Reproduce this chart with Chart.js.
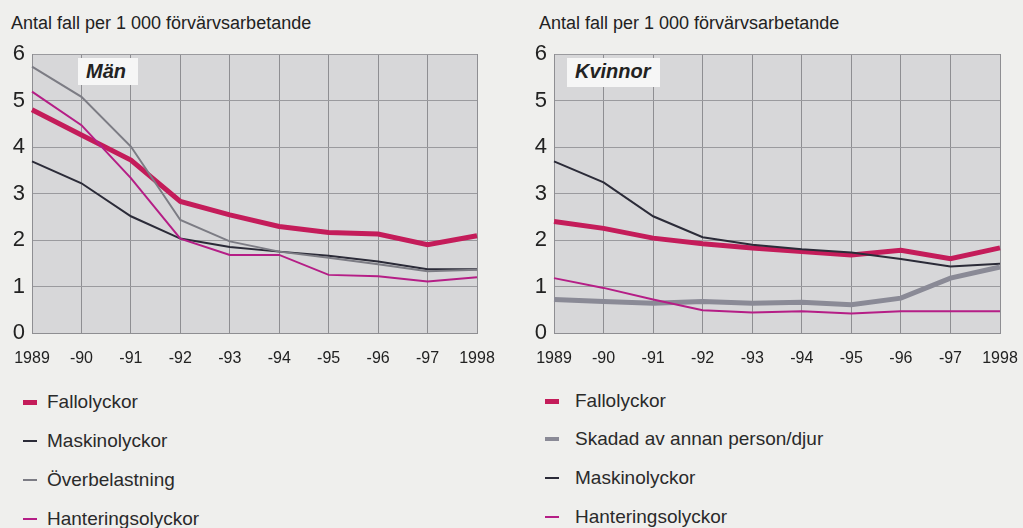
<!DOCTYPE html>
<html>
<head>
<meta charset="utf-8">
<script src="https://cdn.jsdelivr.net/npm/chart.js@4/dist/chart.umd.min.js"></script>
<style>
  body { margin:0; width:1023px; height:528px; background:#efefed; font-family:"Liberation Sans", Arial, sans-serif; color:#2a2a2a; position:relative; overflow:hidden; }
  canvas { position:absolute; top:0; }
  .title { position:absolute; top:13px; font-size:18px; color:#222; }
  .tag { position:absolute; background:#f6f6f6; font-weight:bold; font-style:italic; font-size:20px; color:#222; padding:2px 0 0 8px; box-sizing:border-box; }
  .leg { position:absolute; font-size:19px; line-height:19px; }
  .leg .sw { position:absolute; left:0; top:9px; width:14px; }
  .leg .tx { position:absolute; white-space:nowrap; }
</style>
</head>
<body>
<div class="title" style="left:11px">Antal fall per 1 000 förvärvsarbetande</div>
<div class="title" style="left:539px">Antal fall per 1 000 förvärvsarbetande</div>
<canvas id="c1" width="511" height="380" style="left:0"></canvas>
<canvas id="c2" width="511" height="380" style="left:512px"></canvas>
<div class="tag" style="left:78px;top:58px;width:60px;height:27px">Män</div>
<div class="tag" style="left:567px;top:58px;width:93px;height:29px">Kvinnor</div>
<div id="leg1"></div>
<div id="leg2"></div>
<script>
var years = ['1989','-90','-91','-92','-93','-94','-95','-96','-97','1998'];
var yTicks = [0,1,2,3,4,5,6];

// Män
var manFall     = [4.80, 4.26, 3.72, 2.83, 2.54, 2.29, 2.16, 2.13, 1.90, 2.09];
var manMaskin   = [3.69, 3.22, 2.51, 2.03, 1.85, 1.75, 1.66, 1.54, 1.37, 1.37];
var manOver     = [5.73, 5.08, 4.01, 2.43, 1.97, 1.75, 1.62, 1.48, 1.33, 1.36];
var manHanter   = [5.19, 4.47, 3.33, 2.03, 1.68, 1.68, 1.25, 1.22, 1.11, 1.20];

// Kvinnor
var kvFall      = [2.40, 2.25, 2.04, 1.92, 1.83, 1.75, 1.68, 1.78, 1.60, 1.83];
var kvSkadad    = [0.72, 0.68, 0.64, 0.68, 0.64, 0.66, 0.61, 0.75, 1.18, 1.42];
var kvMaskin    = [3.69, 3.24, 2.51, 2.06, 1.90, 1.80, 1.73, 1.59, 1.43, 1.49];
var kvHanter    = [1.18, 0.97, 0.72, 0.49, 0.44, 0.47, 0.42, 0.47, 0.47, 0.47];

var names1 = ['Fallolyckor','Maskinolyckor','Överbelastning','Hanteringsolyckor'];
var names2 = ['Fallolyckor','Skadad av annan person/djur','Maskinolyckor','Hanteringsolyckor'];

var cFall = '#c41c5a', cMaskin = '#2b2b38', cOver = '#7c7c84', cHanter = '#b51e86', cSkadad = '#8a8a96';

var plotBg = {
  id:'plotBg',
  beforeDraw:function(chart){
    var a = chart.chartArea, ctx = chart.ctx;
    ctx.save();
    ctx.fillStyle = '#d7d7d9';
    ctx.fillRect(a.left, a.top, a.right - a.left, a.bottom - a.top);
    ctx.restore();
  }
};

function ds(label, data, color, w){
  return { label:label, data:data, borderColor:color, backgroundColor:color, borderWidth:w,
           tension:0, pointRadius:0, fill:false };
}

function opts(padLeft, padRight){
  return {
    responsive:false, animation:false,
    layout:{ padding:{ top:54, left:padLeft, right:padRight, bottom:7 } },
    plugins:{ legend:{ display:false }, tooltip:{ enabled:false } },
    scales:{
      x:{
        offset:false,
        // invisible tick marks push the labels down without widening the side padding
        grid:{ color:'#8e8e92', lineWidth:1, drawTicks:true, tickLength:12, tickColor:'rgba(0,0,0,0)' },
        border:{ color:'#8e8e92' },
        ticks:{ color:'#222', font:{ size:16, family:'Liberation Sans' }, padding:4, maxRotation:0, autoSkip:false },
        afterFit:function(s){ s.height = 40; }
      },
      y:{
        min:0, max:6,
        afterBuildTicks:function(s){ s.ticks = yTicks.map(function(v){ return { value:v }; }); },
        grid:{ color:'#9a9a9e', lineWidth:1, drawTicks:false },
        border:{ color:'#8e8e92' },
        ticks:{ color:'#222', font:{ size:22, family:'Liberation Sans' }, padding:7 },
        afterFit:function(s){ s.width = 32; }
      }
    }
  };
}

new Chart(document.getElementById('c1'), {
  type:'line',
  data:{ labels:years, datasets:[
    ds(names1[3], manHanter, cHanter, 2),
    ds(names1[2], manOver, cOver, 2),
    ds(names1[1], manMaskin, cMaskin, 2),
    ds(names1[0], manFall, cFall, 5)
  ]},
  options:opts(0, 34),
  plugins:[plotBg]
});

new Chart(document.getElementById('c2'), {
  type:'line',
  data:{ labels:years, datasets:[
    ds(names2[3], kvHanter, cHanter, 2),
    ds(names2[1], kvSkadad, cSkadad, 5),
    ds(names2[2], kvMaskin, cMaskin, 2),
    ds(names2[0], kvFall, cFall, 5)
  ]},
  options:opts(10, 23),
  plugins:[plotBg]
});

// legends
function legend(id, left, textLeft, tops, names, colors, widths){
  var box = document.getElementById(id);
  names.forEach(function(n, i){
    var d = document.createElement('div');
    d.className = 'leg';
    d.style.left = left + 'px';
    d.style.top = (tops[i] - 9) + 'px';
    var sw = document.createElement('span');
    sw.className = 'sw';
    sw.style.background = colors[i];
    sw.style.height = widths[i] + 'px';
    sw.style.top = (10 - widths[i] / 2) + 'px';
    var tx = document.createElement('span');
    tx.className = 'tx';
    tx.style.left = (textLeft - left) + 'px';
    tx.textContent = n;
    d.appendChild(sw); d.appendChild(tx);
    box.appendChild(d);
  });
}
legend('leg1', 23, 47, [401, 440, 479, 518], names1, [cFall, cMaskin, cOver, cHanter], [5, 2, 2, 2]);
legend('leg2', 545, 575, [400, 438, 477, 516], names2, [cFall, cSkadad, cMaskin, cHanter], [5, 4, 2, 2]);
</script>
</body>
</html>
